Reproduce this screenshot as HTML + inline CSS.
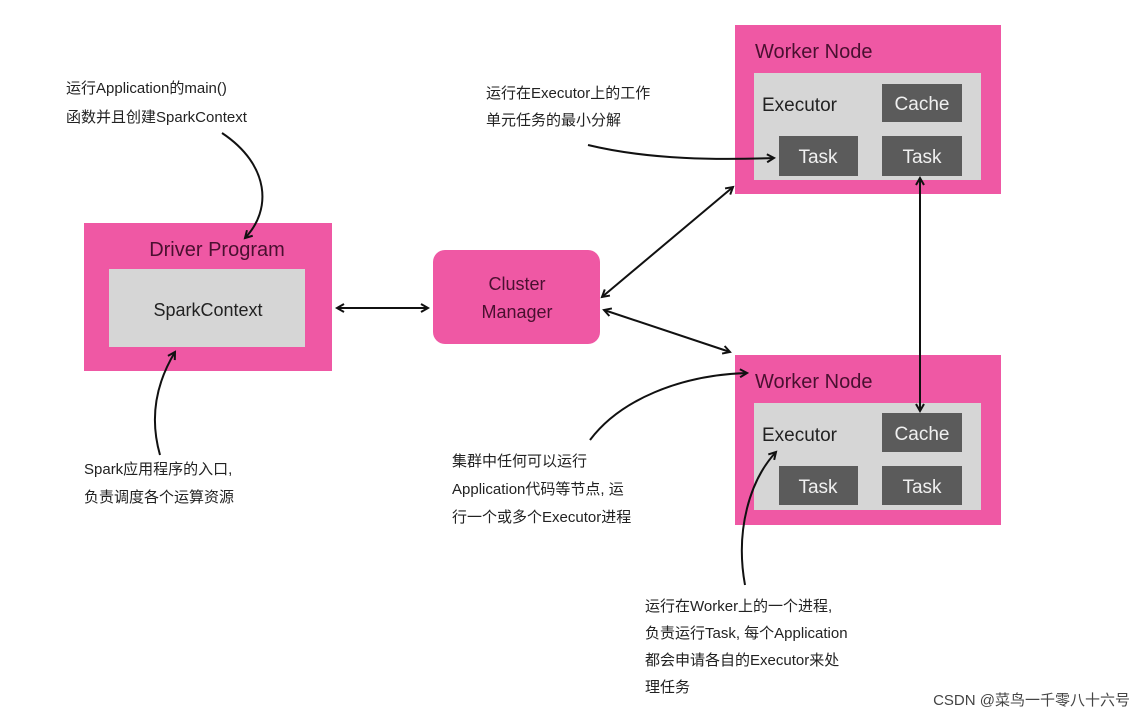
<!DOCTYPE html>
<html><head><meta charset="utf-8"><style>
body{margin:0;background:#fff;}
svg{display:block;}
text{font-family:"Liberation Sans","Noto Sans CJK SC",sans-serif;}
</style></head><body>
<svg width="1145" height="718" viewBox="0 0 1145 718" xmlns="http://www.w3.org/2000/svg">
<defs>
<marker id="a" markerWidth="10" markerHeight="10" refX="8" refY="5" orient="auto-start-reverse" markerUnits="userSpaceOnUse"><path d="M1,1 L8,5 L1,9" fill="none" stroke="#111" stroke-width="2"/></marker>
</defs>
<!-- Driver -->
<rect x="84" y="223" width="248" height="148" fill="#ef58a4"/>
<rect x="109" y="269" width="196" height="78" fill="#d6d6d6"/>
<text x="217" y="256" font-size="20" fill="#4a1030" text-anchor="middle">Driver  Program</text>
<text x="208" y="316" font-size="18" fill="#222" text-anchor="middle">SparkContext</text>
<!-- Cluster manager -->
<rect x="433" y="250" width="167" height="94" rx="12" fill="#ef58a4"/>
<text x="517" y="290" font-size="18" fill="#4a1030" text-anchor="middle">Cluster</text>
<text x="517" y="318" font-size="18" fill="#4a1030" text-anchor="middle">Manager</text>
<!-- Worker top -->
<rect x="735" y="25" width="266" height="169" fill="#ef58a4"/>
<rect x="754" y="73" width="227" height="107" fill="#d6d6d6"/>
<text x="755" y="58" font-size="20" fill="#4a1030">Worker Node</text>
<text x="762" y="111" font-size="19" fill="#222">Executor</text>
<rect x="882" y="84" width="80" height="38" fill="#5b5b5b"/>
<text x="922" y="110" font-size="19" fill="#f0f0f0" text-anchor="middle">Cache</text>
<rect x="779" y="136" width="79" height="40" fill="#5b5b5b"/>
<text x="818" y="163" font-size="19" fill="#f0f0f0" text-anchor="middle">Task</text>
<rect x="882" y="136" width="80" height="40" fill="#5b5b5b"/>
<text x="922" y="163" font-size="19" fill="#f0f0f0" text-anchor="middle">Task</text>
<!-- Worker bottom -->
<rect x="735" y="355" width="266" height="170" fill="#ef58a4"/>
<rect x="754" y="403" width="227" height="107" fill="#d6d6d6"/>
<text x="755" y="388" font-size="20" fill="#4a1030">Worker Node</text>
<text x="762" y="441" font-size="19" fill="#222">Executor</text>
<rect x="882" y="413" width="80" height="39" fill="#5b5b5b"/>
<text x="922" y="440" font-size="19" fill="#f0f0f0" text-anchor="middle">Cache</text>
<rect x="779" y="466" width="79" height="39" fill="#5b5b5b"/>
<text x="818" y="493" font-size="19" fill="#f0f0f0" text-anchor="middle">Task</text>
<rect x="882" y="466" width="80" height="39" fill="#5b5b5b"/>
<text x="922" y="493" font-size="19" fill="#f0f0f0" text-anchor="middle">Task</text>
<!-- connectors -->
<g stroke="#111" stroke-width="2" fill="none">
<line x1="337" y1="308" x2="428" y2="308" marker-start="url(#a)" marker-end="url(#a)"/>
<line x1="602" y1="297" x2="733" y2="187" marker-start="url(#a)" marker-end="url(#a)"/>
<line x1="604" y1="310" x2="730" y2="352" marker-start="url(#a)" marker-end="url(#a)"/>
<line x1="920" y1="178" x2="920" y2="411" marker-start="url(#a)" marker-end="url(#a)"/>
<path d="M222,133 C270,165 272,210 245,238" marker-end="url(#a)"/>
<path d="M160,455 C150,420 155,385 175,352" marker-end="url(#a)"/>
<path d="M588,145 C650,160 720,160 774,158" marker-end="url(#a)"/>
<path d="M590,440 C620,400 680,375 747,373" marker-end="url(#a)"/>
<path d="M745,585 C735,530 750,480 776,452" marker-end="url(#a)"/>
</g>
<!-- annotations -->
<g font-size="15" fill="#222">
<text x="66" y="93">运行Application的main()</text>
<text x="66" y="122">函数并且创建SparkContext</text>
<text x="486" y="98">运行在Executor上的工作</text>
<text x="486" y="125">单元任务的最小分解</text>
<text x="84" y="474">Spark应用程序的入口,</text>
<text x="84" y="502">负责调度各个运算资源</text>
<text x="452" y="466">集群中任何可以运行</text>
<text x="452" y="494">Application代码等节点, 运</text>
<text x="452" y="522">行一个或多个Executor进程</text>
<text x="645" y="611">运行在Worker上的一个进程,</text>
<text x="645" y="638">负责运行Task, 每个Application</text>
<text x="645" y="665">都会申请各自的Executor来处</text>
<text x="645" y="692">理任务</text>
</g>
<text x="1130" y="705" font-size="15" fill="#444" text-anchor="end">CSDN @菜鸟一千零八十六号</text>
</svg>
</body></html>
